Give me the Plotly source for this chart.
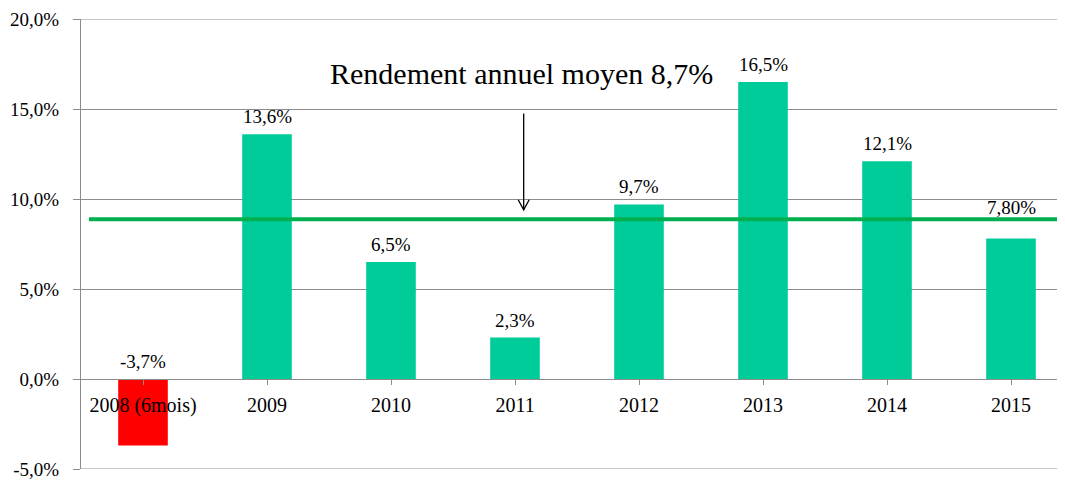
import plotly.graph_objects as go

categories = ["2008 (6mois)", "2009", "2010", "2011", "2012", "2013", "2014", "2015"]
values = [-3.7, 13.6, 6.5, 2.3, 9.7, 16.5, 12.1, 7.8]
value_labels = ["-3,7%", "13,6%", "6,5%", "2,3%", "9,7%", "16,5%", "12,1%", "7,80%"]
label_raise_px = [0, 0, 0, 0, 0, 0, 0, 14]
bar_colors = ["#FF0000"] + ["#00CC99"] * 7
average_line = 8.87
average_text = "Rendement annuel moyen 8,7%"
y_ticks = [-5, 0, 5, 10, 15, 20]
y_tick_labels = ["-5,0%", "0,0%", "5,0%", "10,0%", "15,0%", "20,0%"]

FONT = "Liberation Serif, 'Times New Roman', Times, serif"
GRID = "#8c8c8c"
ymin, ymax = -5, 20
idx = list(range(len(categories)))

fig = go.Figure()
fig.add_trace(go.Bar(x=idx, y=values, marker=dict(color=bar_colors, line=dict(width=0)),
                     width=0.4, showlegend=False, hoverinfo="skip"))

# outer gridlines (top and bottom of the value range)
for yv in (ymin, ymax):
    fig.add_shape(type="line", xref="paper", yref="y", x0=0, x1=1, y0=yv, y1=yv,
                  line=dict(color=GRID, width=1), layer="below")

# average line across the plot
fig.add_shape(type="line", xref="paper", yref="y", x0=0.008, x1=1,
              y0=average_line, y1=average_line, line=dict(color="#00B050", width=4))

# data labels
for i, v, t, r in zip(idx, values, value_labels, label_raise_px):
    fig.add_annotation(x=i, y=max(v, 0), text=t, showarrow=False, yanchor="bottom",
                       yshift=5 + r, font=dict(family=FONT, size=19, color="#000"))

# arrow (shaft + open V head)
arrow_x = 3.07
arrow_tip = 9.4
arrow_top = 14.75
fig.add_shape(type="line", xref="x", yref="y", x0=arrow_x, x1=arrow_x,
              y0=arrow_top, y1=arrow_tip, line=dict(color="#000", width=1.3))
fig.add_shape(type="path", xref="x", yref="y", xsizemode="pixel", ysizemode="pixel",
              xanchor=arrow_x, yanchor=arrow_tip,
              path="M -5.5,10 L 0,0 L 5.5,10", line=dict(color="#000", width=1.3))
fig.add_annotation(x=3.05, y=16.95, xref="x", yref="y", text=average_text, showarrow=False,
                   font=dict(family=FONT, size=30, color="#000"))

fig.update_layout(
    width=1066, height=473,
    margin=dict(l=73, r=1, t=9, b=11),
    plot_bgcolor="white", paper_bgcolor="white",
    font=dict(family=FONT, size=19, color="#000"),
    xaxis=dict(anchor="free", position=(0 - ymin) / (ymax - ymin), showline=True,
               linecolor=GRID, linewidth=1, ticks="outside", tickson="boundaries",
               ticklen=5, tickcolor=GRID, showgrid=False, range=[-0.5, 7.5],
               tickmode="array", tickvals=idx, ticktext=categories,
               ticklabelstandoff=3,
               tickfont=dict(family=FONT, size=20, color="#000")),
    yaxis=dict(range=[ymin, ymax], tickvals=y_ticks, ticktext=y_tick_labels,
               showgrid=True, gridcolor=GRID, gridwidth=1, zeroline=False,
               showline=True, linecolor=GRID, linewidth=1, ticks="outside",
               ticklen=7, tickcolor=GRID, ticklabelstandoff=10,
               ticklabeloverflow="allow",
               tickfont=dict(family=FONT, size=19, color="#000")),
)

fig.write_html("out.html")
